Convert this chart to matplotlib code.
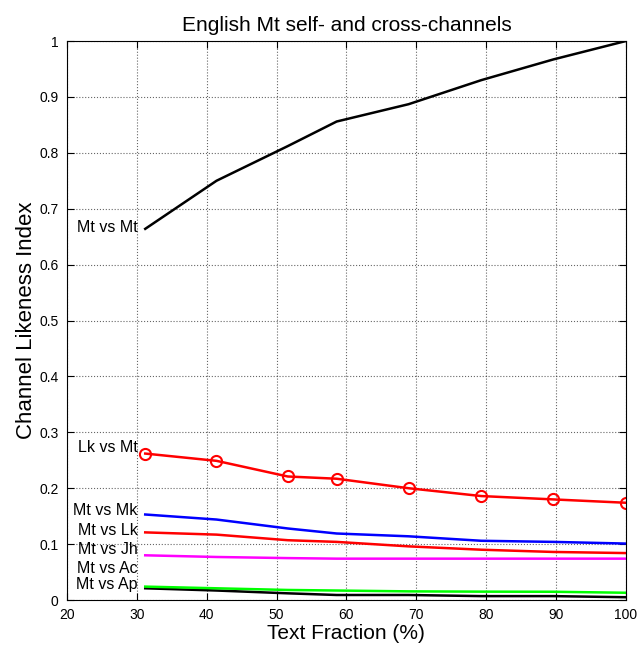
import numpy as np
import matplotlib.pyplot as plt

plt.rcParams['font.family'] = ['Liberation Sans', 'DejaVu Sans']

# 文本比例 (%)
frac = [31.2, 41.4, 51.6, 58.6, 68.9, 79.3, 89.6, 100]

mt_mt = [0.664, 0.750, 0.812, 0.856, 0.887, 0.930, 0.967, 1.000]
lk_mt = [0.262, 0.249, 0.221, 0.217, 0.200, 0.186, 0.180, 0.174]
mt_mk = [0.153, 0.144, 0.128, 0.119, 0.114, 0.106, 0.104, 0.101]
mt_lk = [0.121, 0.117, 0.107, 0.104, 0.096, 0.090, 0.086, 0.084]
mt_jh = [0.080, 0.077, 0.075, 0.074, 0.074, 0.074, 0.074, 0.074]
mt_ac = [0.024, 0.021, 0.018, 0.017, 0.0155, 0.015, 0.0148, 0.013]
mt_ap = [0.021, 0.017, 0.012, 0.009, 0.009, 0.007, 0.007, 0.005]

fig = plt.figure(figsize=(6.38, 6.47), dpi=100)
ax = fig.add_axes([0.105, 0.0726, 0.876, 0.864])

ax.plot(frac, mt_ap, color='k', lw=1.8)
ax.plot(frac, mt_ac, color='#00ff00', lw=1.8)
ax.plot(frac, mt_jh, color='#ff00ff', lw=1.8)
ax.plot(frac, mt_lk, color='r', lw=1.8)
ax.plot(frac, mt_mk, color='b', lw=1.8)
ax.plot(frac, lk_mt, color='r', lw=1.8, marker='o', ms=8, mfc='none', mew=1.5)
ax.plot(frac, mt_mt, color='k', lw=1.8)

# 曲线左侧标注
labels = [('Mt vs Mt', 0.667), ('Lk vs Mt', 0.272), ('Mt vs Mk', 0.161),
          ('Mt vs Lk', 0.125), ('Mt vs Jh', 0.0895), ('Mt vs Ac', 0.057),
          ('Mt vs Ap', 0.0285)]
for txt, yy in labels:
    ax.text(30.1, yy, txt, ha='right', va='center', fontsize=11.5)

ax.set_xlim(20, 100)
ax.set_ylim(0, 1)
ax.set_xticks(np.arange(20, 101, 10))
ax.set_yticks(np.arange(0, 1.01, 0.1))
ax.set_yticklabels(['0', '0.1', '0.2', '0.3', '0.4', '0.5', '0.6', '0.7', '0.8', '0.9', '1'])
ax.tick_params(direction='in', top=True, right=True, labelsize=10, length=5, pad=6)
ax.grid(True, linestyle=':', color='k', lw=0.8, alpha=0.6)

ax.set_title('English Mt self- and cross-channels', fontsize=15, pad=7)
ax.set_xlabel('Text Fraction (%)', fontsize=15, labelpad=1)
ax.set_ylabel('Channel Likeness Index', fontsize=16, labelpad=2)

fig.savefig('out.png', dpi=100)
